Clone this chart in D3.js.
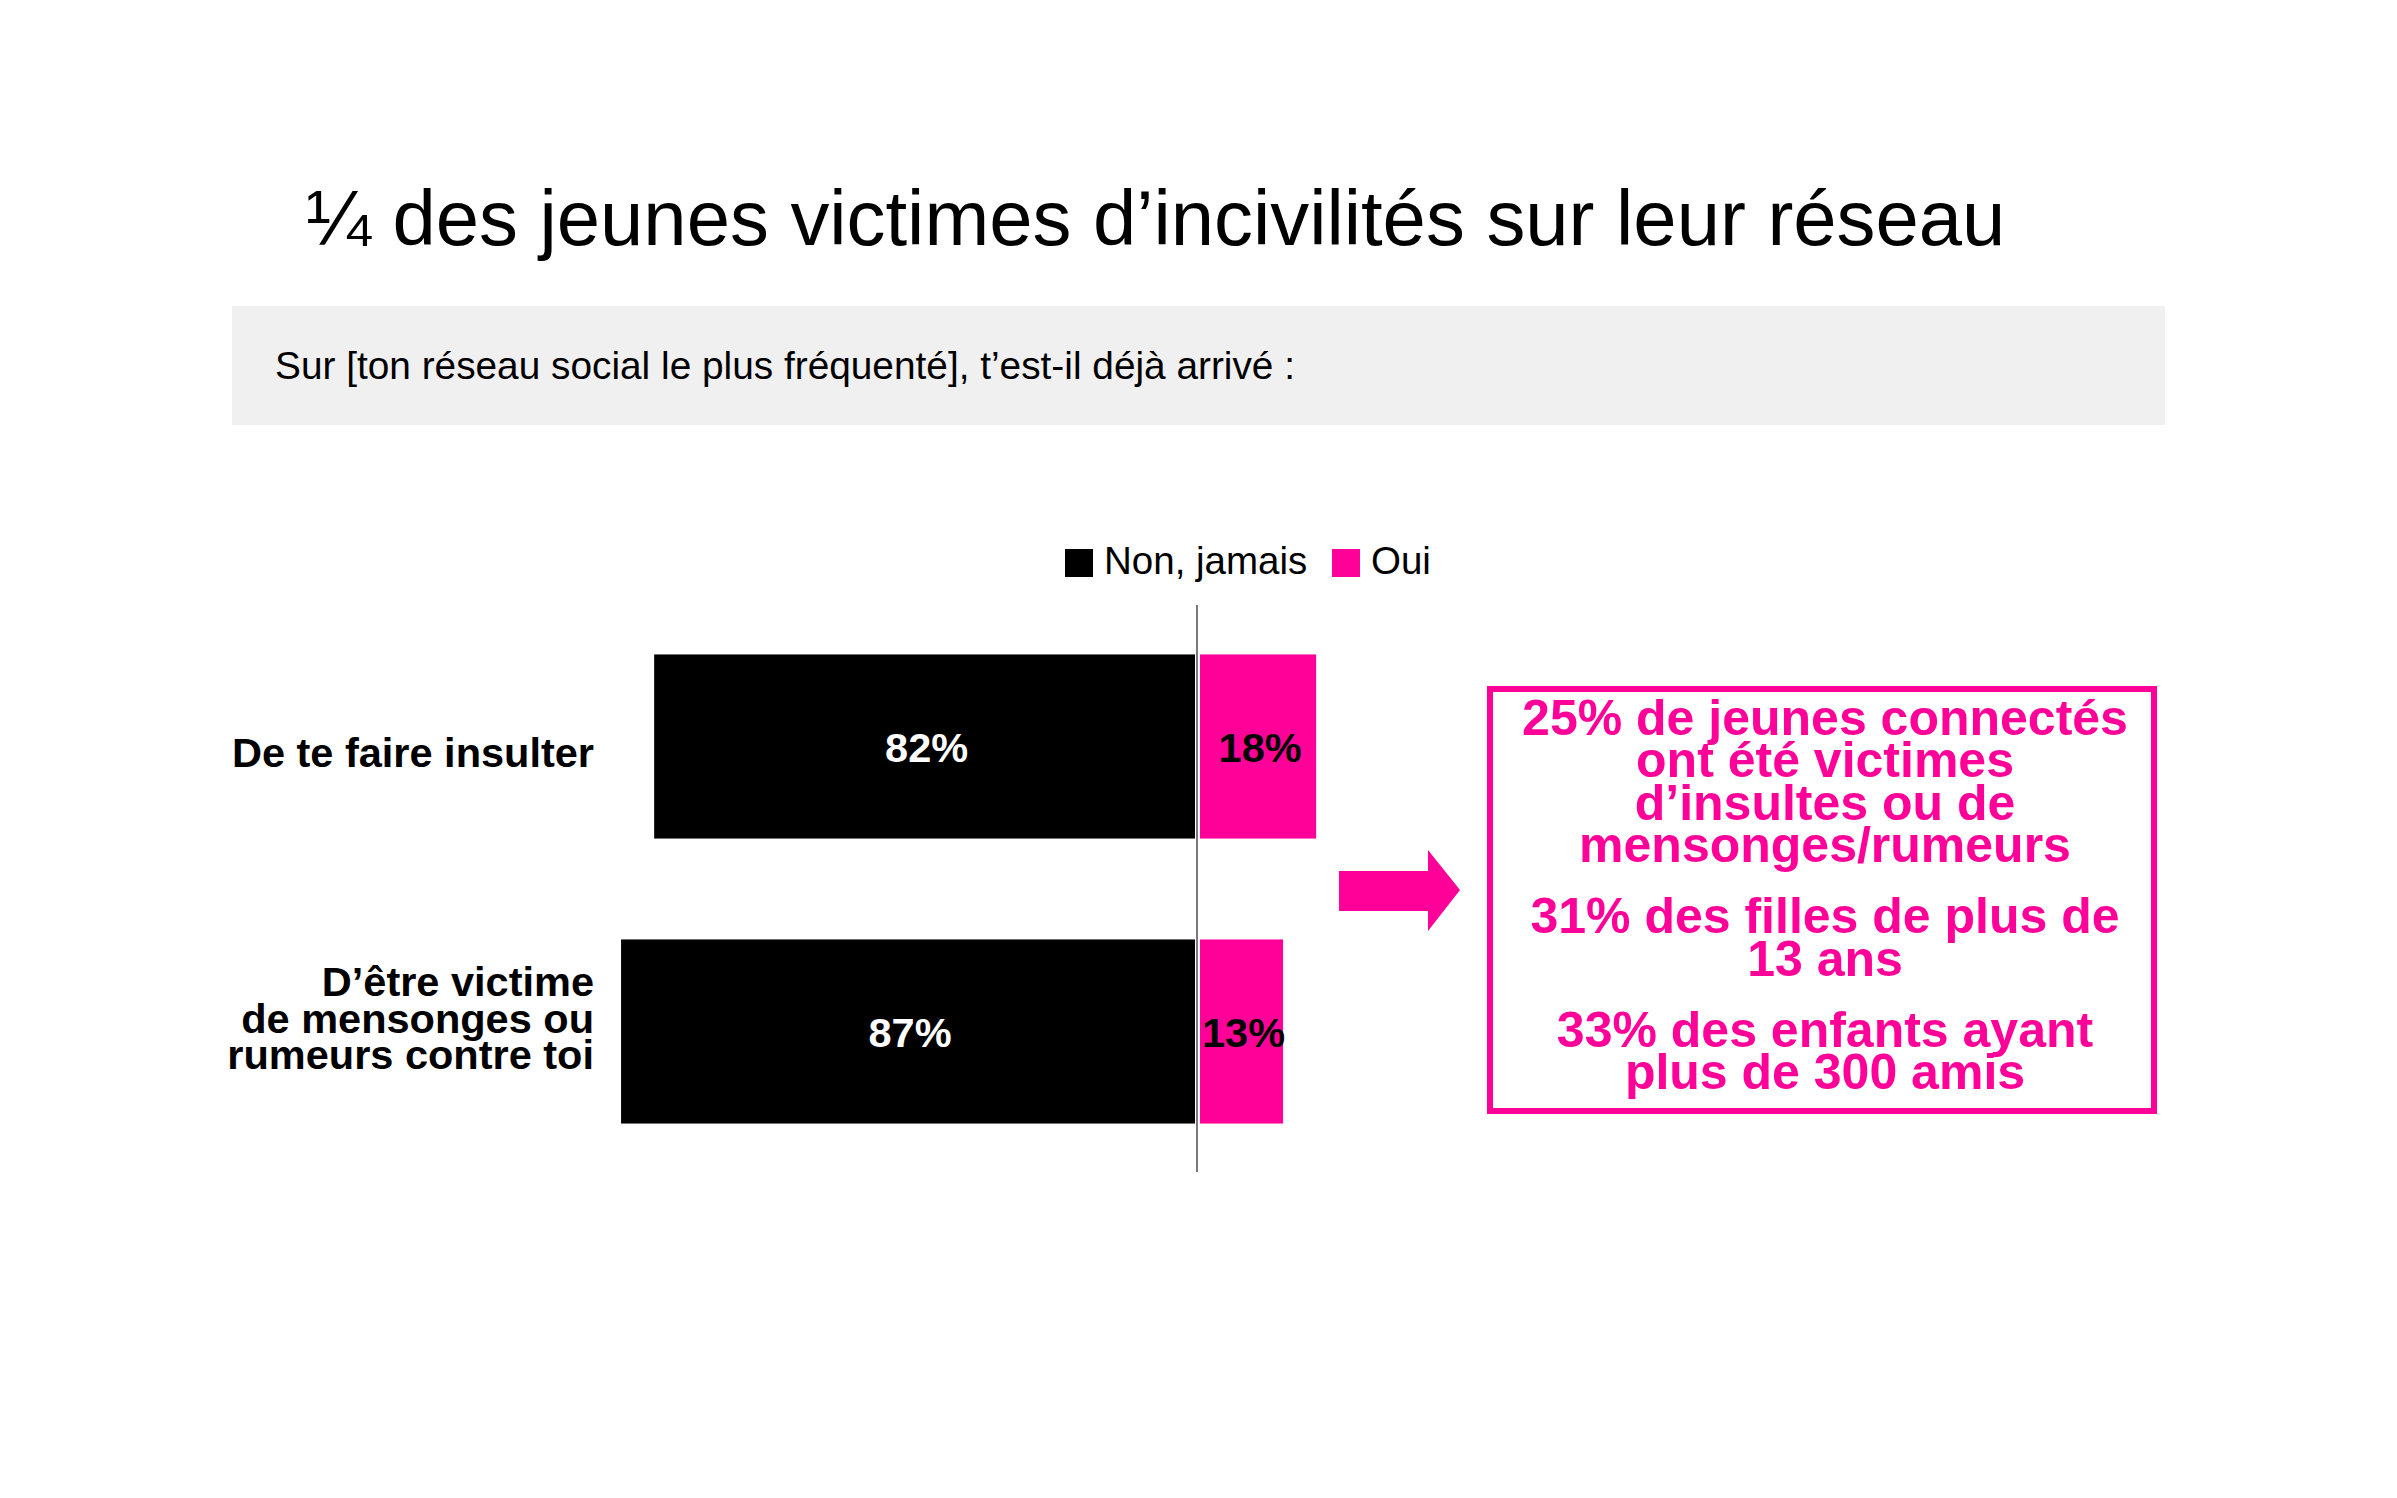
<!DOCTYPE html>
<html>
<head>
<meta charset="utf-8">
<script src="https://cdn.jsdelivr.net/npm/d3@7"></script>
<style>
  html, body { margin: 0; padding: 0; background: #ffffff; }
  svg { display: block; font-family: Arial, "Liberation Sans", sans-serif; }
</style>
</head>
<body>
<script>
// ---- Data ----
const titleText = "¼ des jeunes victimes d’incivilités sur leur réseau";
const questionText = "Sur [ton réseau social le plus fréquenté], t’est-il déjà arrivé :";
const categories = ["De te faire insulter", "D’être victime de mensonges ou rumeurs contre toi"];
const categoryLines = [["De te faire insulter"], ["D’être victime", "de mensonges ou", "rumeurs contre toi"]];
const seriesNames = ["Non, jamais", "Oui"];
const nonJamais = [82, 87];
const oui = [18, 13];
const calloutParagraphs = [
  ["25% de jeunes connectés", "ont été victimes", "d’insultes ou de", "mensonges/rumeurs"],
  ["31% des filles de plus de", "13 ans"],
  ["33% des enfants ayant", "plus de 300 amis"]
];

const PINK = "#ff0099";
const W = 2397, H = 1498;

const svg = d3.select("body").append("svg").attr("width", W).attr("height", H);

// Title
svg.append("text").attr("x", 306).attr("y", 245)
  .attr("font-size", 77.8).attr("fill", "#000").text(titleText);

// Question band
svg.append("rect").attr("x", 232).attr("y", 306).attr("width", 1933).attr("height", 119).attr("fill", "#f0f0f0");
svg.append("text").attr("x", 275).attr("y", 379).attr("font-size", 38.8).attr("fill", "#000").text(questionText);

// Scales
const x = d3.scaleLinear().domain([-100, 100]).range([1197 - 662, 1197 + 662]);
const y = d3.scaleBand().domain(categories).range([604, 1174]).paddingInner(0.354).paddingOuter(0.177);
const x0 = x(0);

// Legend
const legendColors = ["#000000", PINK];
const legendX = [1065, 1332];
seriesNames.forEach((name, i) => {
  svg.append("rect").attr("x", legendX[i]).attr("y", 549).attr("width", 28).attr("height", 28).attr("fill", legendColors[i]);
  svg.append("text").attr("x", legendX[i] + 39).attr("y", 574).attr("font-size", 38.5).attr("fill", "#000").text(name);
});

// Bars
const g = svg.append("g");
categories.forEach((cat, i) => {
  const top = y(cat), bw = y.bandwidth(), cy = top + bw / 2;
  // Non, jamais (left)
  const bx0 = x(-nonJamais[i]), bx1 = x0 - 2;
  g.append("rect").attr("x", bx0).attr("y", top).attr("width", bx1 - bx0).attr("height", bw).attr("fill", "#000");
  g.append("text").attr("x", (bx0 + bx1) / 2 + 2).attr("y", cy + 15.5).attr("text-anchor", "middle")
    .attr("font-size", 41.5).attr("font-weight", "bold").attr("fill", "#fff").text(nonJamais[i] + "%");
  // Oui (right)
  const px0 = x0 + 3, px1 = x(oui[i]);
  g.append("rect").attr("x", px0).attr("y", top).attr("width", px1 - px0).attr("height", bw).attr("fill", PINK);
  g.append("text").attr("x", (px0 + px1) / 2 + 2).attr("y", cy + 15.5).attr("text-anchor", "middle")
    .attr("font-size", 41.5).attr("font-weight", "bold").attr("fill", "#000").text(oui[i] + "%");
  // Category label
  const lines = categoryLines[i];
  const first = cy + 20 - (lines.length - 1) * 27.75;
  const t = g.append("text").attr("text-anchor", "end").attr("font-size", 41.5).attr("font-weight", "bold").attr("fill", "#000");
  lines.forEach((ln, j) => {
    t.append("tspan").attr("x", 594).attr("y", first + j * 36.5).text(ln);
  });
});

// Axis line
svg.append("line").attr("x1", x0).attr("x2", x0).attr("y1", 605).attr("y2", 1172)
  .attr("stroke", "#222").attr("stroke-width", 1.2);

// Arrow
const ap = d3.path();
ap.moveTo(1339, 871); ap.lineTo(1428, 871); ap.lineTo(1428, 850); ap.lineTo(1460, 890);
ap.lineTo(1428, 931); ap.lineTo(1428, 911); ap.lineTo(1339, 911); ap.closePath();
svg.append("path").attr("d", ap.toString()).attr("fill", PINK);

// Callout box
svg.append("rect").attr("x", 1490).attr("y", 689).attr("width", 664).attr("height", 422)
  .attr("fill", "none").attr("stroke", PINK).attr("stroke-width", 6);
const ct = svg.append("text").attr("text-anchor", "middle").attr("font-size", 50).attr("font-weight", "bold").attr("fill", PINK);
let by = 735;
calloutParagraphs.forEach((para, pi) => {
  if (pi > 0) by += 29;
  para.forEach((ln, li) => {
    if (pi > 0 || li > 0) by += 42.3;
    ct.append("tspan").attr("x", 1825).attr("y", by).text(ln);
  });
});
</script>
</body>
</html>
